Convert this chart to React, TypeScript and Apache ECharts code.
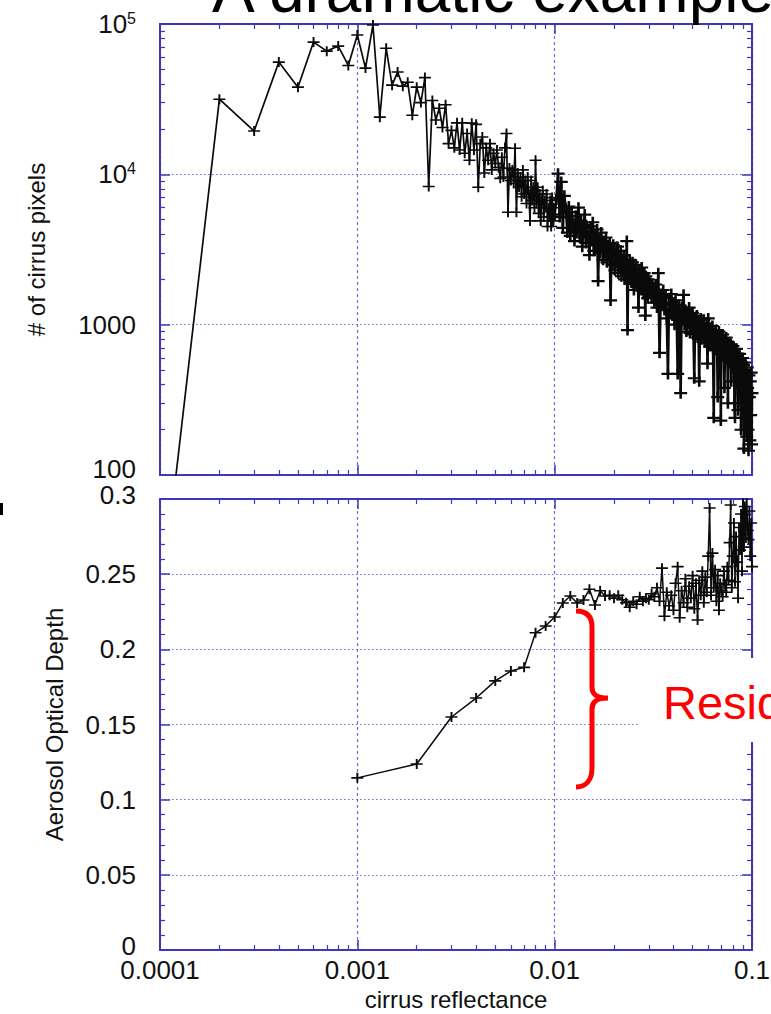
import React, { useEffect, useRef } from "react";
import * as echarts from "echarts";

// Cirrus pixel counts, 0.0001-wide reflectance bins from 0.0001 to 0.0100
const countsFineStart = 0.0001;
const countsFineStep = 0.0001;
const countsFine: number[] = [
  12, 31600, 19400, 55800, 38000, 75800, 66000, 71300, 53000, 84500,
  50900, 98500, 24000, 69000, 39200, 47900, 38600, 41000, 24700, 38000,
  30000, 44000, 8300, 31000, 23000, 27500, 20500, 29000, 16000, 19600,
  15000, 22000, 14500, 22000, 13800, 18700, 12400, 21900, 14500, 21500,
  8200, 16000, 17700, 10200, 15000, 12400, 16000, 10700, 13800, 11800,
  14500, 11100, 9400, 13000, 9600, 15000, 18700, 5600, 11000, 9100,
  10700, 8700, 14900, 5600, 10200, 8200, 9600, 7100, 10700, 7400,
  9100, 6400, 9600, 7400, 4900, 9100, 6700, 8200, 6000, 12400,
  6400, 8200, 5500, 7400, 4900, 6700, 7800, 5200, 6700, 6000,
  7400, 4500, 6000, 5200, 6700, 4500, 7000, 4900, 6000, 5400,
];

// Cirrus pixel counts, 0.0002-wide bins from 0.0102 to 0.0300
const countsMidStart = 0.0102;
const countsMidStep = 0.0002;
const countsMid: number[] = [
  6800, 10100, 5200, 8900, 4400, 7200, 5900, 4100, 6100, 3900,
  5600, 4700, 3600, 5300, 4200, 6000, 3800, 4900, 3300, 4600,
  5400, 3500, 4400, 3900, 2900, 4500, 3600, 4800, 3100, 3900,
  3400, 4300, 1950, 3700, 3000, 4100, 3300, 2700, 3600, 3000,
  3800, 2600, 3300, 2900, 3500, 1450, 3100, 2500, 3400, 2700,
  2300, 3000, 2600, 3300, 2200, 2800, 2500, 3100, 2100, 2700,
  2400, 2900, 2000, 2600, 2300, 3600, 920, 2500, 2200, 2700,
  2000, 2400, 1900, 2600, 2200, 1700, 2300, 2000, 2500, 1800,
  2200, 2000, 1300, 2300, 1900, 2100, 1700, 2400, 1800, 2000,
  1600, 2200, 1900, 1150, 2100, 1700, 1950, 1500, 2000, 1650,
];

// Cirrus pixel counts, 0.0005-wide bins from 0.0305 to 0.1000
const countsCoarseStart = 0.0305;
const countsCoarseStep = 0.0005;
const countsCoarse: number[] = [
  1900, 1500, 1750, 1400, 1850, 1300, 2200, 650, 1600, 1350,
  1700, 1250, 1550, 1100, 470, 1500, 1200, 1600, 1150, 1400,
  1000, 1450, 1200, 470, 1350, 1050, 350, 1300, 1100, 1580,
  1000, 1250, 900, 1200, 1050, 1300, 880, 1150, 950, 1200,
  860, 440, 1100, 950, 1150, 820, 1050, 420, 980, 1100,
  800, 1000, 900, 1080, 760, 950, 850, 1020, 550, 1100,
  800, 930, 720, 900, 820, 980, 700, 240, 880, 760,
  920, 680, 850, 330, 800, 900, 650, 820, 230, 780,
  700, 860, 620, 790, 380, 740, 680, 820, 590, 720,
  300, 760, 640, 700, 560, 740, 420, 680, 610, 720,
  520, 660, 300, 240, 640, 580, 690, 480, 620, 270,
  600, 520, 640, 380, 580, 200, 560, 470, 600, 300,
  540, 150, 500, 560, 240, 480, 420, 180, 520, 380,
  200, 145, 460, 330, 170, 420, 250, 480, 160, 350,
];

// Mean aerosol optical depth per 0.001-wide reflectance bin, 0.001 to 0.100
const aodStart = 0.001;
const aodStep = 0.001;
const aodValues: number[] = [
  0.1145, 0.1237, 0.155, 0.1676, 0.179, 0.1856, 0.188, 0.211, 0.2155, 0.2215,
  0.2308, 0.2355, 0.2308, 0.2328, 0.24, 0.2295, 0.239, 0.2355, 0.236, 0.234,
  0.236, 0.233, 0.231, 0.228, 0.232, 0.23, 0.235, 0.232, 0.234, 0.233,
  0.237, 0.235, 0.241, 0.232, 0.254, 0.222, 0.238, 0.229, 0.236, 0.226,
  0.244, 0.255, 0.221, 0.239, 0.231, 0.247, 0.228, 0.242, 0.234, 0.249,
  0.227, 0.244, 0.2195, 0.246, 0.236, 0.252, 0.231, 0.248, 0.238, 0.262,
  0.294, 0.236, 0.264, 0.241, 0.253, 0.232, 0.249, 0.226, 0.244, 0.239,
  0.235, 0.252, 0.243, 0.238, 0.255, 0.246, 0.271, 0.296, 0.241, 0.262,
  0.284, 0.245, 0.275, 0.258, 0.234, 0.281, 0.266, 0.29, 0.252, 0.31,
  0.268, 0.295, 0.274, 0.305, 0.279, 0.273, 0.292, 0.262, 0.284, 0.255,
];

const reflectanceRange = [0.0001, 0.1];
const countRange = [100, 100000];
const aodRange = [0, 0.3];
const aodInterval = 0.05;

const titleText = "A dramatic example";
const calloutText = "Resid";
const xAxisTitle = "cirrus reflectance";
const countAxisTitle = "# of cirrus pixels";
const aodAxisTitle = "Aerosol Optical Depth";

const binned = (start: number, step: number, values: number[]) =>
  values.map((v, i) => [Number((start + i * step).toFixed(4)), v]);

// sparse low-reflectance part and the dense tail; the tail starts from the
// last sparse bin so the curve stays continuous
const fineBins = binned(countsFineStart, countsFineStep, countsFine);
const tailBins = [
  fineBins[fineBins.length - 1],
  ...binned(countsMidStart, countsMidStep, countsMid),
  ...binned(countsCoarseStart, countsCoarseStep, countsCoarse),
];
const aodPoints = binned(aodStart, aodStep, aodValues);

// curly brace drawn next to the AOD curve
echarts.graphic.registerShape(
  "brace",
  echarts.graphic.extendPath(
    "M0,3 C10,3 16,8 16,19 L16,79 C16,86 20,90 32,90 C20,90 16,94 16,101 L16,160 C16,172 10,179 0,179",
    {}
  )
);

const FONT = "'Liberation Sans', Arial, Helvetica, sans-serif";
const AXIS_BLUE = "#3f37b8";
const GRID_BLUE = "#6f6fd2";
const PLUS = "path://M4.2,0H5.8V4.2H10V5.8H5.8V10H4.2V5.8H0V4.2H4.2Z";
const PLUS_BOLD = "path://M4,0H6V4H10V6H6V10H4V6H0V4H4Z";

const tickCommon = {
  axisLine: { show: true, onZero: false, lineStyle: { color: AXIS_BLUE, width: 2 } },
  axisTick: { show: true, inside: true, length: 10, lineStyle: { color: AXIS_BLUE, width: 1.5 } },
  minorTick: { show: true, length: 5, lineStyle: { color: AXIS_BLUE, width: 1.2 } },
};

const fmtNum = (v: number) => String(parseFloat(v.toPrecision(6)));

const labelStyle = {
  show: true,
  color: "#111",
  fontSize: 26,
  fontFamily: FONT,
  showMinLabel: true,
  showMaxLabel: true,
};

export default function App() {
  const ref = useRef<HTMLDivElement>(null);

  useEffect(() => {
    if (!ref.current) return;
    const chart = echarts.init(ref.current, null, { renderer: "svg" });

    const grids = [
      { left: 160, right: 19, top: 24, height: 451, containLabel: false, outerBoundsMode: "none" },
      { left: 160, right: 19, top: 499, height: 451, containLabel: false, outerBoundsMode: "none" },
    ];

    const logX = (gridIndex: number, position: "top" | "bottom", main: boolean, labels: boolean) => ({
      type: "log",
      logBase: 10,
      gridIndex,
      position,
      min: reflectanceRange[0],
      max: reflectanceRange[1],
      ...tickCommon,
      minorTick: { ...tickCommon.minorTick, splitNumber: 9 },
      axisLabel: labels
        ? { ...labelStyle, margin: 7, formatter: (v: number) => fmtNum(v) }
        : { show: false },
      splitLine: main
        ? { show: true, lineStyle: { color: GRID_BLUE, type: [3, 3], width: 1.2 } }
        : { show: false },
      name: labels ? xAxisTitle : "",
      nameLocation: "middle",
      nameGap: 37,
      nameMoveOverlap: false,
      nameTextStyle: { fontSize: 24, fontFamily: FONT, color: "#111" },
    });

    const lineCommon = {
      type: "line",
      clip: true,
      showAllSymbol: true,
      itemStyle: { color: "#0a0a0a" },
      emphasis: { disabled: true },
      silent: true,
    };

    const option: any = {
      animation: false,
      backgroundColor: "#ffffff",
      grid: grids,
      xAxis: [
        logX(0, "bottom", true, false),
        logX(0, "top", false, false),
        logX(1, "bottom", true, true),
        logX(1, "top", false, false),
      ],
      yAxis: [
        {
          type: "log",
          logBase: 10,
          gridIndex: 0,
          position: "left",
          min: countRange[0],
          max: countRange[1],
          ...tickCommon,
          minorTick: { ...tickCommon.minorTick, splitNumber: 9 },
          axisLabel: {
            ...labelStyle,
            margin: 24,
            formatter: (v: number) => {
              const e = Math.round(Math.log10(v));
              if (e >= 4) return `10{sup|${e}}`;
              if (e <= 2) return `{lift|${fmtNum(v)}}`;
              return fmtNum(v);
            },
            rich: {
              sup: { fontSize: 16, fontFamily: FONT, color: "#111", padding: [0, 0, 12, 0] },
              lift: { fontSize: 26, fontFamily: FONT, color: "#111", padding: [0, 0, 12, 0] },
            },
          },
          splitLine: { show: true, lineStyle: { color: GRID_BLUE, type: [1.5, 2.5], width: 1.2 } },
          name: countAxisTitle,
          nameLocation: "middle",
          nameGap: 112,
          nameMoveOverlap: false,
          nameTextStyle: { fontSize: 24, fontFamily: FONT, color: "#111" },
        },
        {
          type: "log",
          logBase: 10,
          gridIndex: 0,
          position: "right",
          min: countRange[0],
          max: countRange[1],
          ...tickCommon,
          minorTick: { ...tickCommon.minorTick, splitNumber: 9 },
          axisLabel: { show: false },
          splitLine: { show: false },
        },
        {
          type: "value",
          gridIndex: 1,
          position: "left",
          min: aodRange[0],
          max: aodRange[1],
          interval: aodInterval,
          ...tickCommon,
          minorTick: { ...tickCommon.minorTick, splitNumber: 5 },
          axisLabel: {
            ...labelStyle,
            margin: 24,
            formatter: (v: number) => {
              if (v <= aodRange[0] || v >= aodRange[1]) return `{lift|${fmtNum(v)}}`;
              return fmtNum(v);
            },
            rich: {
              lift: { fontSize: 26, fontFamily: FONT, color: "#111", padding: [0, 0, 8, 0] },
            },
          },
          splitLine: { show: true, lineStyle: { color: GRID_BLUE, type: [1.5, 2.5], width: 1.2 } },
          name: aodAxisTitle,
          nameLocation: "middle",
          nameGap: 94,
          nameMoveOverlap: false,
          nameTextStyle: { fontSize: 24, fontFamily: FONT, color: "#111" },
        },
        {
          type: "value",
          gridIndex: 1,
          position: "right",
          min: aodRange[0],
          max: aodRange[1],
          interval: aodInterval,
          ...tickCommon,
          minorTick: { ...tickCommon.minorTick, splitNumber: 5 },
          axisLabel: { show: false },
          splitLine: { show: false },
        },
      ],
      series: [
        {
          ...lineCommon,
          name: "pixels",
          xAxisIndex: 0,
          yAxisIndex: 0,
          data: fineBins,
          symbol: PLUS,
          symbolSize: [12, 10],
          lineStyle: { color: "#0a0a0a", width: 1.7 },
        },
        {
          ...lineCommon,
          name: "pixels tail",
          xAxisIndex: 0,
          yAxisIndex: 0,
          data: tailBins,
          symbol: PLUS_BOLD,
          symbolSize: [13, 11],
          lineStyle: { color: "#0a0a0a", width: 2.6 },
        },
        {
          ...lineCommon,
          name: "aod",
          xAxisIndex: 2,
          yAxisIndex: 2,
          data: aodPoints,
          symbol: PLUS,
          symbolSize: [12, 10],
          lineStyle: { color: "#0a0a0a", width: 1.5 },
        },
      ],
      graphic: [
        {
          type: "text",
          x: 212,
          y: -10,
          z: 100,
          style: {
            text: titleText,
            fontSize: 64,
            fontFamily: FONT,
            fill: "#000",
            textAlign: "left",
            textVerticalAlign: "middle",
          },
        },
        {
          type: "rect",
          x: 0,
          y: 503,
          z: 100,
          shape: { width: 3, height: 12 },
          style: { fill: "#000" },
        },
        {
          type: "rect",
          x: 640,
          y: 658,
          z: 100,
          shape: { width: 140, height: 84 },
          style: { fill: "#ffffff" },
        },
        {
          type: "brace",
          x: 576,
          y: 608,
          z: 100,
          style: { fill: "none", stroke: "#ff0000", lineWidth: 5 },
        },
        {
          type: "text",
          x: 663,
          y: 702,
          z: 101,
          style: {
            text: calloutText,
            fontSize: 47,
            fontFamily: FONT,
            fill: "#ff0000",
            textAlign: "left",
            textVerticalAlign: "middle",
          },
        },
      ],
    };

    chart.setOption(option);
    return () => chart.dispose();
  }, []);

  return (
    <div
      ref={ref}
      style={{ position: "fixed", left: 0, top: 0, width: 771, height: 1014, background: "#ffffff" }}
    />
  );
}
